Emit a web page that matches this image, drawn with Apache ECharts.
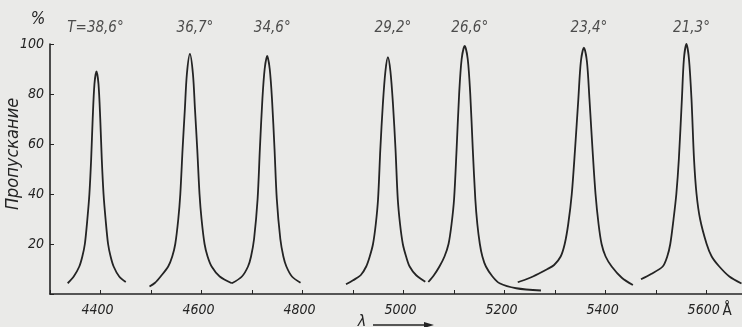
<!DOCTYPE html>
<html>
<head>
<meta charset="utf-8">
<script src="https://cdn.jsdelivr.net/npm/echarts@6/dist/echarts.min.js"></script>
<style>
html, body { margin: 0; padding: 0; background: #eaeae8; }
#chart { width: 742px; height: 327px; }
</style>
</head>
<body>
<div id="chart"></div>
<script>
// кривые пропускания: [λ, Å ; пропускание, %]
const peak1 = [[4335,4.3],[4347,7],[4358,11],[4364,15],[4369,20],[4374,30],[4378,40],[4381.5,54],[4384.5,70],[4388,84],[4392,89],[4396,84],[4399.5,70],[4402.5,54],[4406,40],[4410,30],[4415,20],[4420,15],[4426,11],[4437,7],[4450,4.8]];
const peak2 = [[4497,3],[4508,4.5],[4519,7],[4534,11],[4542,15],[4548,20],[4554,30],[4558,40],[4562.5,58],[4567,74],[4571,88],[4577,96],[4583,88],[4587,74],[4591.5,58],[4596,40],[4600,30],[4606,20],[4612,15],[4620,11],[4636,7],[4660,4.3]];
const peak3 = [[4660,4.3],[4680,7],[4692,11],[4698,15],[4704,22],[4711,38],[4715.5,58],[4720.5,78],[4725,90],[4730,95.2],[4735,90],[4739.5,78],[4744.5,58],[4749,38],[4756,22],[4762,15],[4768,11],[4779,7],[4796,4.5]];
const peak4 = [[4886,3.9],[4900,5.5],[4915,7.5],[4926,11],[4933,15],[4939.5,20],[4945,28],[4949.5,38],[4954,58],[4959,76],[4964,89],[4969,94.7],[4974,89],[4979,76],[4984,58],[4988.5,38],[4993,28],[4998.5,20],[5005,15],[5012,11],[5025,7.5],[5043,4.9]];
const peak5 = [[5049,4.8],[5060,7.5],[5071,11],[5081,15],[5089,20],[5095,28],[5100,38],[5105,58],[5110,80],[5115,94],[5121,99.2],[5127,94],[5132,80],[5137,58],[5142,38],[5146,28],[5151,20],[5156,15],[5163,11],[5176,7],[5190,4.3],[5223,2.3],[5272,1.4]];
const peak6 = [[5226,4.7],[5248,6.3],[5269,8.3],[5285,10],[5298,11.6],[5311,15],[5319,20],[5326,28],[5333,40],[5339.5,58],[5346,78],[5351,93],[5357,98.5],[5363,93],[5368,78],[5374,58],[5380,40],[5386,28],[5392,20],[5400,15],[5412,11],[5432,6.5],[5454,3.6]];
const peak7 = [[5470,5.9],[5490,8],[5513,11],[5522,15],[5528,20],[5534.5,30],[5540,40],[5545,54],[5551,78],[5555,94],[5560,100],[5565,94],[5570,78],[5575,54],[5580,40],[5587,30],[5600,20],[5610,15],[5625,11],[5645,7],[5669,4.2]];

const tempLabels = ["T=38,6°", "36,7°", "34,6°", "29,2°", "26,6°", "23,4°", "21,3°"];
const peaks = [peak1, peak2, peak3, peak4, peak5, peak6, peak7];

const ink = "#242424";
const font = "'Liberation Sans Narrow', 'DejaVu Sans Condensed', sans-serif";

let myChart = echarts.init(document.getElementById("chart"));

let _series = [];
for (let i = 0; i < peaks.length; i++) {
  _series.push({
    type: "line",
    data: peaks[i],
    smooth: 0.3,
    symbol: "none",
    lineStyle: { color: ink, width: 1.8 },
    silent: true
  });
}

// подписи температур над максимумами
let labelData = peaks.map((p, i) => {
  let top = p.reduce((a, b) => (b[1] > a[1] ? b : a));
  return {
    value: [top[0] + 10, 106.5],
    label: { formatter: tempLabels[i], offset: i === 0 ? [-6, 0] : [0, 0] }
  };
});
_series.push({
  type: "scatter",
  data: labelData,
  symbolSize: 0,
  clip: false,
  silent: true,
  label: {
    show: true,
    position: "inside",
    color: ink,
    fontSize: 15,
    fontStyle: "italic",
    fontFamily: font
  }
});

let option = {
  backgroundColor: "#eaeae8",
  animation: false,
  grid: { left: 50, right: 0, top: 44, bottom: 33 },
  xAxis: {
    type: "value",
    min: 4300,
    max: 5670,
    interval: 100,
    axisLine: { lineStyle: { color: ink, width: 1.6 } },
    axisTick: { inside: true, length: 4, lineStyle: { color: ink } },
    splitLine: { show: false },
    axisLabel: {
      margin: 9,
      padding: [0, 6, 0, 0],
      color: ink,
      fontSize: 14,
      fontStyle: "italic",
      fontFamily: font,
      showMaxLabel: false,
      formatter: v => (v % 200 === 0 ? String(v) : "")
    }
  },
  yAxis: {
    type: "value",
    min: 0,
    max: 100,
    interval: 20,
    axisLine: { show: true, lineStyle: { color: ink, width: 1.6 } },
    axisTick: { show: true, inside: true, length: 4, lineStyle: { color: ink } },
    splitLine: { show: false },
    axisLabel: {
      margin: 6,
      color: ink,
      fontSize: 14,
      fontStyle: "italic",
      fontFamily: font,
      formatter: v => (v === 0 ? "" : String(v))
    }
  },
  graphic: [
    {
      type: "text", x: 38, y: 20,
      style: { text: "%", fill: ink, font: "italic 17px " + font, textAlign: "center", textVerticalAlign: "middle" }
    },
    {
      type: "text", x: 13, y: 154, rotation: Math.PI / 2,
      style: { text: "Пропускание", fill: ink, font: "italic 18px " + font, textAlign: "center", textVerticalAlign: "middle" }
    },
    {
      type: "text", x: 727, y: 311,
      style: { text: "Å", fill: ink, font: "15px " + font, textAlign: "center", textVerticalAlign: "middle" }
    },
    {
      type: "text", x: 362, y: 322,
      style: { text: "λ", fill: ink, font: "italic 16px " + font, textAlign: "center", textVerticalAlign: "middle" }
    },
    {
      type: "line",
      shape: { x1: 373, y1: 325, x2: 430, y2: 325 },
      style: { stroke: ink, lineWidth: 1.4 }
    },
    {
      type: "polygon",
      shape: { points: [[434, 325], [424, 322], [424, 328]] },
      style: { fill: ink }
    }
  ],
  series: _series
};
myChart.setOption(option);
window.addEventListener("resize", () => myChart.resize());
</script>
</body>
</html>
